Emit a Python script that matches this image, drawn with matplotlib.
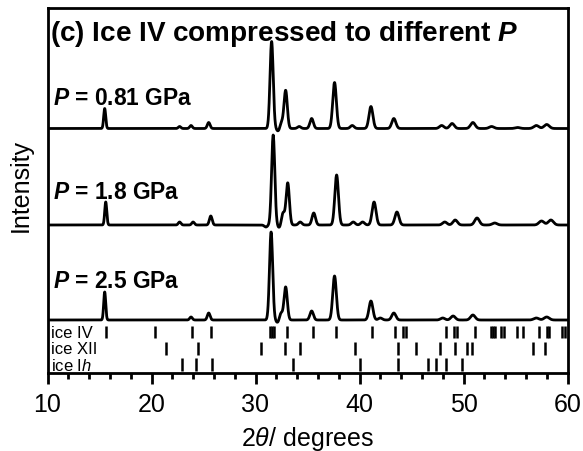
import numpy as np
import matplotlib
matplotlib.use("Agg")
import matplotlib.pyplot as plt
from matplotlib.ticker import MultipleLocator

plt.rcParams['font.family'] = ['Liberation Sans', 'DejaVu Sans']
plt.rcParams['mathtext.fontset'] = 'custom'
plt.rcParams['mathtext.rm'] = 'Liberation Sans'
plt.rcParams['mathtext.it'] = 'Liberation Sans:italic'
plt.rcParams['mathtext.bf'] = 'Liberation Sans:bold'
plt.rcParams['mathtext.bfit'] = 'Liberation Sans:bold:italic'

# ---- data: peak positions (2theta, deg) and heights (arb. units) ----
p081_pos = [15.5, 22.7, 23.8, 25.5, 31.55, 32.2, 32.5, 32.9, 34.2, 35.4, 37.6, 39.3,
            41.1, 43.3, 47.9, 48.9, 50.9, 52.7, 55.2, 57.0, 58.0]
p081_int = [20, 2, 3, 6, 87, -3, 6, 38, 2, 10, 46, 3,
            22, 10, 3, 5, 6, 2, 1, 3, 4]

p18_pos = [15.6, 22.7, 24.0, 25.7, 31.0, 31.7, 32.3, 32.65, 33.1, 34.3, 35.6, 37.8, 39.4,
           40.3, 41.4, 43.6, 48.2, 49.2, 51.3, 53.0, 57.5, 58.4]
p18_int = [23, 3, 3, 9, -2, 90, -3, 12, 42, 3, 12, 50, 3,
           3, 23, 13, 3, 5, 7, 2, 4, 5]

p25_pos = [15.5, 23.8, 25.5, 31.5, 32.15, 32.45, 32.9, 35.4, 37.6, 41.1, 42.0, 43.3,
           48.0, 49.0, 50.9, 57.0, 58.0]
p25_int = [28, 3, 7, 88, -3, 7, 33, 9, 44, 19, 2, 7,
           2, 4, 5, 2, 3]

pressures = ["0.81", "1.8", "2.5"]

ice_IV = [15.6, 20.3, 23.9, 25.7, 31.4, 31.6, 31.8, 33.0, 35.5, 37.7, 41.2, 43.4,
          44.2, 44.5, 48.3, 49.1, 49.4, 51.1, 52.6, 52.8, 53.0, 53.6, 53.9, 55.1,
          55.7, 57.3, 58.0, 58.2, 59.5, 59.8]
ice_XII = [21.4, 24.5, 30.5, 32.8, 34.3, 39.6, 43.7, 45.4, 47.7, 49.2, 50.3, 50.8,
           56.7, 57.8]
ice_Ih = [22.9, 24.3, 25.8, 33.6, 40.0, 43.7, 46.6, 47.4, 48.3, 49.9]

phase_names = ["ice IV", "ice XII", "ice I$\\mathit{h}$"]

# ---- figure ----
fig = plt.figure(figsize=(5.83, 4.52), dpi=100)
ax = fig.add_axes([47.5 / 583, 1 - 373.5 / 452, 520 / 583, 365 / 452])
ax.set_xlim(10, 60)
ax.set_ylim(0, 365)

x = np.linspace(10, 60, 5001)


def profile(pos, inten):
    y = np.zeros_like(x)
    for p, h in zip(pos, inten):
        s = 0.095 + 0.0035 * (p - 15)
        y += h * np.exp(-0.5 * ((x - p) / s) ** 2)
    return y


baselines = [244, 147.5, 52.5]
label_y = [268, 174, 86]
patterns = [(p081_pos, p081_int), (p18_pos, p18_int), (p25_pos, p25_int)]
for (pos, inten), b, ly, pr in zip(patterns, baselines, label_y, pressures):
    ax.plot(x, profile(pos, inten) + b, color='black', lw=2.0, solid_joinstyle='round')
    ax.text(10.5, ly, "$\\mathbfit{P}$ = " + pr + " GPa", fontsize=16.4,
            fontweight='bold', va='baseline', ha='left')

rows = [(ice_IV, 34.5, 46.5), (ice_XII, 17.5, 31.0), (ice_Ih, 1.5, 15.0)]
for (pk, y0, y1), name in zip(rows, phase_names):
    ax.vlines(pk, y0, y1, color='black', lw=1.8)
    ax.text(10.3, (y0 + y1) / 2 - 0.5, name, fontsize=12, va='center', ha='left')

ax.text(10.25, 332, "(c) Ice IV compressed to different $\\mathbfit{P}$",
        fontsize=20.1, fontweight='bold', va='baseline', ha='left')

for sp in ax.spines.values():
    sp.set_linewidth(2.0)

ax.set_yticks([])
ax.xaxis.set_major_locator(MultipleLocator(10))
ax.xaxis.set_minor_locator(MultipleLocator(2))
ax.tick_params(axis='x', which='major', direction='out', length=8, width=2,
               labelsize=18, pad=6)
ax.tick_params(axis='x', which='minor', direction='out', length=4, width=2)

fig.text(33 / 583, 1 - 185 / 452, "Intensity", rotation=90, fontsize=18,
         ha='right', va='center')
fig.text(307 / 583, 1 - 446 / 452, "2$\\theta$/ degrees", fontsize=18,
         ha='center', va='baseline')

fig.savefig("out.png", dpi=100)
